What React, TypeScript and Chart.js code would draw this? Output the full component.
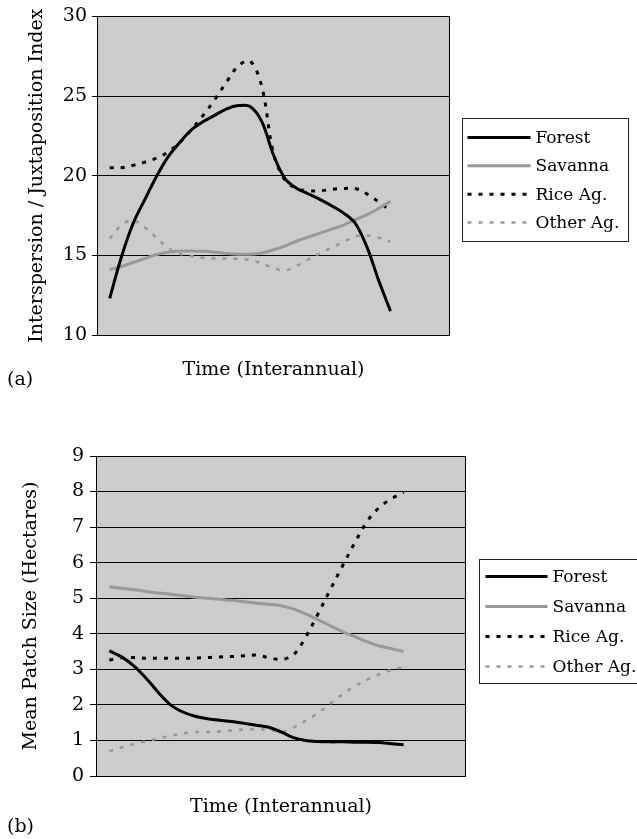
import React, { useEffect, useRef } from 'react';
import { Chart, registerables } from 'chart.js';

Chart.register(...registerables);

// ---------- data ----------
const timeSteps = [0, 1, 2, 3, 4, 5, 6, 7, 8, 9, 10, 11, 12, 13, 14, 15, 16, 17, 18, 19, 20, 21, 22, 23, 24];
const seriesNames = ['Forest', 'Savanna', 'Rice Ag.', 'Other Ag.'];

// Panel (a): Interspersion / Juxtaposition Index
const forestA = [12.3, 14.9, 17.0, 18.5, 19.95, 21.2, 22.1, 22.9, 23.4, 23.8, 24.2, 24.4, 24.35, 23.4, 21.3, 19.8, 19.2, 18.85, 18.5, 18.1, 17.65, 17.0, 15.5, 13.4, 11.5];
const savannaA = [14.1, 14.3, 14.55, 14.8, 15.05, 15.2, 15.27, 15.27, 15.25, 15.2, 15.12, 15.07, 15.07, 15.15, 15.35, 15.6, 15.9, 16.15, 16.4, 16.65, 16.9, 17.25, 17.55, 17.95, 18.4];
const riceA = [20.5, 20.5, 20.65, 20.85, 21.1, 21.5, 22.1, 22.9, 23.8, 24.8, 25.9, 26.9, 27.2, 25.6, 21.4, 19.7, 19.2, 19.05, 19.05, 19.15, 19.2, 19.2, 18.85, 18.35, 17.8];
const otherA = [16.05, 16.9, 17.2, 16.75, 16.1, 15.45, 15.1, 14.95, 14.85, 14.8, 14.8, 14.78, 14.7, 14.5, 14.2, 14.05, 14.35, 14.75, 15.15, 15.5, 15.85, 16.2, 16.25, 16.1, 15.85];
const yTicksA = [10, 15, 20, 25, 30];

// Panel (b): Mean Patch Size (Hectares)
const forestB = [3.52, 3.35, 3.1, 2.75, 2.35, 2.0, 1.8, 1.68, 1.61, 1.57, 1.53, 1.48, 1.43, 1.37, 1.24, 1.08, 1.0, 0.97, 0.96, 0.96, 0.95, 0.95, 0.94, 0.91, 0.88];
const savannaB = [5.32, 5.28, 5.24, 5.19, 5.15, 5.11, 5.07, 5.03, 5.0, 4.97, 4.94, 4.9, 4.86, 4.83, 4.79, 4.7, 4.56, 4.4, 4.23, 4.06, 3.92, 3.78, 3.66, 3.58, 3.5];
const riceB = [3.26, 3.33, 3.33, 3.31, 3.31, 3.31, 3.31, 3.32, 3.33, 3.35, 3.36, 3.38, 3.4, 3.33, 3.28, 3.4, 3.9, 4.55, 5.23, 5.9, 6.55, 7.15, 7.55, 7.8, 7.98];
const otherB = [0.7, 0.8, 0.9, 0.98, 1.06, 1.13, 1.2, 1.23, 1.24, 1.25, 1.28, 1.31, 1.31, 1.3, 1.24, 1.36, 1.55, 1.77, 2.03, 2.3, 2.52, 2.71, 2.86, 2.98, 3.07];
const yTicksB = [0, 1, 2, 3, 4, 5, 6, 7, 8, 9];

// ---------- styles ----------
const FONT = "'DejaVu Serif', serif";
const seriesStyles = [
  { color: '#000000', width: 3, dash: [] as number[] },
  { color: '#999999', width: 3, dash: [] as number[] },
  { color: '#000000', width: 3, dash: [4, 7] },
  { color: '#999999', width: 2.5, dash: [4, 7] },
];

const framePlugin = {
  id: 'frame',
  beforeDraw(chart: any) {
    const { ctx, chartArea: a } = chart;
    ctx.save();
    ctx.fillStyle = '#cccccc';
    ctx.fillRect(a.left, a.top, a.right - a.left, a.bottom - a.top);
    ctx.restore();
  },
  afterDraw(chart: any, _args: any, opts: any) {
    const { ctx, chartArea: a } = chart;
    ctx.save();
    // plot border
    ctx.strokeStyle = '#000';
    ctx.lineWidth = 1;
    ctx.setLineDash([]);
    ctx.strokeRect(Math.round(a.left) - 0.5, Math.round(a.top) + 0.5, Math.round(a.right - a.left) + 1, Math.round(a.bottom - a.top));

    // legend
    const lg = opts.legend;
    const bx = Math.round(a.right + lg.offsetX) + 0.5;
    const by = Math.round((a.top + a.bottom) / 2 + lg.dy - lg.height / 2) + 0.5;
    ctx.fillStyle = '#ffffff';
    ctx.fillRect(bx, by, lg.width, lg.height);
    ctx.strokeStyle = '#222';
    ctx.lineWidth = 1;
    ctx.strokeRect(bx, by, lg.width, lg.height);
    const ds = chart.data.datasets;
    const n = ds.length;
    const firstY = by + lg.rowInset;
    const step = (lg.height - 2 * lg.rowInset) / (n - 1);
    ctx.font = `${lg.fontSize}px ${FONT}`;
    ctx.textBaseline = 'middle';
    ctx.textAlign = 'left';
    ds.forEach((d: any, i: number) => {
      const y = firstY + i * step;
      ctx.beginPath();
      ctx.strokeStyle = d.borderColor;
      ctx.lineWidth = d.borderWidth;
      ctx.setLineDash(d.borderDash || []);
      ctx.lineCap = 'butt';
      ctx.moveTo(bx + lg.lineStart, y);
      ctx.lineTo(bx + lg.lineEnd, y);
      ctx.stroke();
      ctx.setLineDash([]);
      ctx.fillStyle = '#000';
      ctx.fillText(d.label, bx + lg.textX, y + 1);
    });

    // panel label
    ctx.font = `19px ${FONT}`;
    ctx.fillStyle = '#000';
    ctx.textBaseline = 'middle';
    ctx.textAlign = 'left';
    ctx.fillText(opts.panel.text, opts.panel.x, opts.panel.y);
    ctx.restore();
  },
};

type PanelCfg = {
  values: number[][];
  yTicks: number[];
  yTitle: string;
  padRight: number;
  padTop: number;
  yAxisWidth: number;
  xAxisHeight: number;
  yTitlePad: number;
  xTitlePad: number;
  tickPad: number;
  tickLen: number;
  legend: any;
  panel: any;
};

function makeConfig(p: PanelCfg): any {
  return {
    type: 'line',
    data: {
      labels: timeSteps,
      datasets: p.values.map((vals, i) => ({
        label: seriesNames[i],
        data: vals,
        borderColor: seriesStyles[i].color,
        borderWidth: seriesStyles[i].width,
        borderDash: seriesStyles[i].dash,
        pointRadius: 0,
        fill: false,
        tension: 0.35,
        borderCapStyle: 'butt',
      })),
    },
    options: {
      animation: false,
      responsive: false,
      layout: { padding: { left: 0, top: p.padTop, right: p.padRight, bottom: 0 } },
      plugins: {
        legend: { display: false },
        tooltip: { enabled: false },
        frame: { legend: p.legend, panel: p.panel },
      },
      scales: {
        x: {
          type: 'linear',
          min: -1,
          max: 29,
          ticks: { display: false },
          grid: { display: false },
          border: { display: false },
          title: {
            display: true,
            text: 'Time (Interannual)',
            color: '#000',
            font: { family: FONT, size: 19 },
            padding: { top: 0, bottom: p.xTitlePad },
          },
          afterFit: (s: any) => { s.height = p.xAxisHeight; },
        },
        y: {
          type: 'linear',
          min: p.yTicks[0],
          max: p.yTicks[p.yTicks.length - 1],
          afterBuildTicks: (s: any) => { s.ticks = p.yTicks.map((v) => ({ value: v })); },
          ticks: {
            color: '#000',
            font: { family: FONT, size: 19 },
            padding: p.tickPad,
          },
          grid: { color: '#000', lineWidth: 1, tickLength: p.tickLen, drawTicks: true },
          border: { display: false },
          title: {
            display: true,
            text: p.yTitle,
            color: '#000',
            font: { family: FONT, size: 19 },
            padding: { top: p.yTitlePad, bottom: 0 },
          },
          afterFit: (s: any) => { s.width = p.yAxisWidth; },
        },
      },
    },
    plugins: [framePlugin],
  };
}

function Panel({ cfg, width, height, top }: { cfg: PanelCfg; width: number; height: number; top: number }) {
  const ref = useRef<HTMLCanvasElement | null>(null);
  useEffect(() => {
    if (!ref.current) return;
    const chart = new Chart(ref.current, makeConfig(cfg));
    return () => chart.destroy();
  }, []);
  return (
    <canvas
      ref={ref}
      width={width}
      height={height}
      style={{ position: 'absolute', left: 0, top, width, height, display: 'block' }}
    />
  );
}

const panelA: PanelCfg = {
  values: [forestA, savannaA, riceA, otherA],
  yTicks: yTicksA,
  yTitle: 'Interspersion / Juxtaposition Index',
  padRight: 188,
  padTop: 16,
  yAxisWidth: 98,
  xAxisHeight: 65,
  yTitlePad: 25.5,
  xTitlePad: 18.5,
  tickPad: 5,
  tickLen: 6,
  legend: { offsetX: 13, dy: 4, width: 166, height: 123, rowInset: 19, lineStart: 5, lineEnd: 68, textX: 73, fontSize: 17 },
  panel: { text: '(a)', x: 7, y: 380 },
};

const panelB: PanelCfg = {
  values: [forestB, savannaB, riceB, otherB],
  yTicks: yTicksB,
  yTitle: 'Mean Patch Size (Hectares)',
  padRight: 172,
  padTop: 56,
  yAxisWidth: 97,
  xAxisHeight: 63,
  yTitlePad: 19.5,
  xTitlePad: 20.5,
  tickPad: 6,
  tickLen: 7,
  legend: { offsetX: 14, dy: 5, width: 170, height: 124, rowInset: 17, lineStart: 6, lineEnd: 68, textX: 73, fontSize: 17 },
  panel: { text: '(b)', x: 7, y: 427 },
};

export default function App() {
  return (
    <div style={{ position: 'absolute', left: 0, top: 0, width: 637, height: 839, background: '#fff', overflow: 'hidden' }}>
      <Panel cfg={panelA} width={637} height={400} top={0} />
      <Panel cfg={panelB} width={637} height={439} top={400} />
    </div>
  );
}
